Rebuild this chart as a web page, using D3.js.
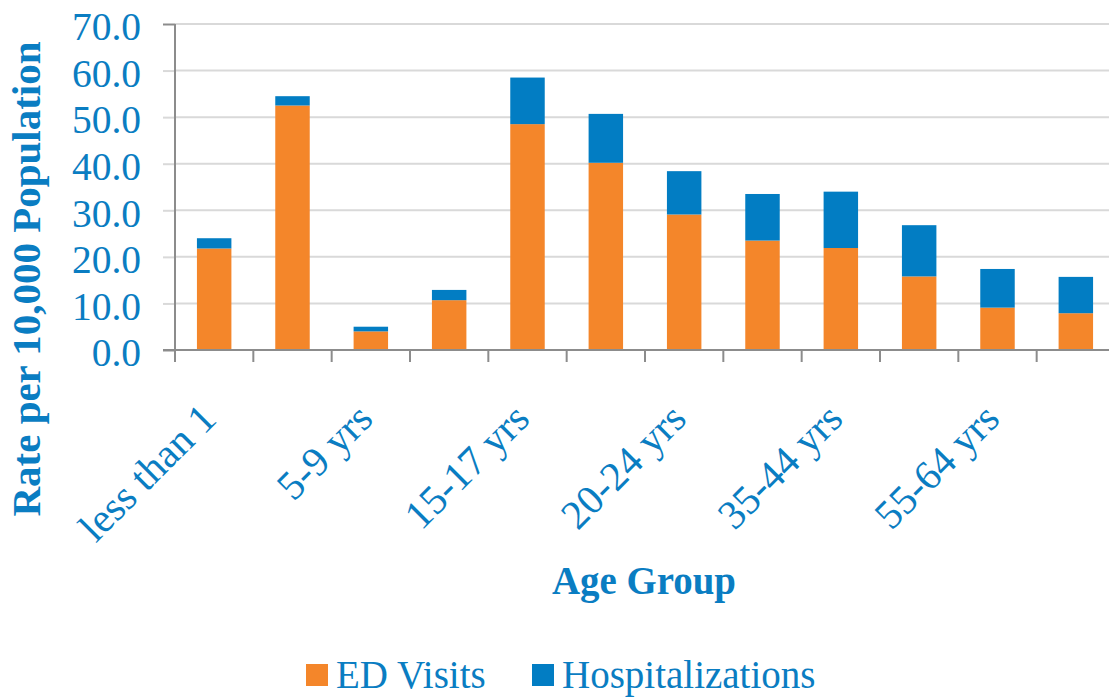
<!DOCTYPE html>
<html>
<head>
<meta charset="utf-8">
<script src="https://cdn.jsdelivr.net/npm/d3@7/dist/d3.min.js"></script>
<style>
  body { margin: 0; background: #fff; }
  text { font-family: "Liberation Serif", "Times New Roman", serif; fill: #0A7DC2; }
</style>
</head>
<body>
<svg id="chart" width="1109" height="698"></svg>
<script>
// Data
var ageGroups = ["less than 1", "1-4 yrs", "5-9 yrs", "10-14 yrs", "15-17 yrs", "18-19 yrs",
                 "20-24 yrs", "25-34 yrs", "35-44 yrs", "45-54 yrs", "55-64 yrs", "65+ yrs"];
var edVisits = [21.8, 52.5, 4.0, 10.7, 48.5, 40.2, 29.1, 23.5, 21.9, 15.8, 9.1, 7.9];
var hospitalizations = [2.2, 2.0, 1.0, 2.2, 10.0, 10.5, 9.3, 10.0, 12.1, 11.0, 8.3, 7.8];
var seriesNames = ["ED Visits", "Hospitalizations"];
var yTicks = [0, 10, 20, 30, 40, 50, 60, 70];

var colors = {"ED Visits": "#F4862A", "Hospitalizations": "#027DC3"};

var svg = d3.select("#chart"),
    plot = {left: 175, right: 1115, top: 24, bottom: 350};

var rows = ageGroups.map(function(g, i) {
  return {group: g, "ED Visits": edVisits[i], "Hospitalizations": hospitalizations[i]};
});

var x = d3.scaleBand()
    .domain(ageGroups)
    .range([plot.left, plot.right])
    .paddingInner(0.56)
    .paddingOuter(0.28);

var y = d3.scaleLinear()
    .domain([0, 70])
    .range([plot.bottom, plot.top]);

// y axis ticks + labels
var yAxis = svg.append("g")
    .attr("transform", "translate(" + plot.left + ",0)")
    .call(d3.axisLeft(y).tickValues(yTicks).tickSize(12).tickPadding(22)
      .tickFormat(function(d) { return d3.format(".1f")(d); }));
yAxis.select(".domain").remove();
yAxis.selectAll(".tick line")
    .attr("stroke", function(d) { return (d === 0 || d === 70) ? "#8c8c8c" : "#d9d9d9"; })
    .attr("stroke-width", 2);
yAxis.selectAll(".tick text")
    .attr("font-size", 39.5)
    .attr("dy", "0.4em")
    .style("fill", "#0A7DC2");

// gridlines
svg.append("g")
  .selectAll("line")
  .data(yTicks.filter(function(d) { return d > 0; }))
  .enter().append("line")
    .attr("x1", plot.left)
    .attr("x2", 1109)
    .attr("y1", function(d) { return y(d); })
    .attr("y2", function(d) { return y(d); })
    .attr("stroke", "#d9d9d9")
    .attr("stroke-width", 2);

// stacked bars
var stacked = d3.stack().keys(seriesNames)(rows);

svg.append("g")
  .selectAll("g")
  .data(stacked)
  .enter().append("g")
    .attr("fill", function(d) { return colors[d.key]; })
  .selectAll("rect")
  .data(function(d) { return d; })
  .enter().append("rect")
    .attr("x", function(d) { return x(d.data.group); })
    .attr("y", function(d) { return y(d[1]); })
    .attr("width", x.bandwidth())
    .attr("height", function(d) { return y(d[0]) - y(d[1]); });

// y axis line
svg.append("line")
    .attr("x1", plot.left).attr("x2", plot.left)
    .attr("y1", plot.top).attr("y2", plot.bottom + 12)
    .attr("stroke", "#8c8c8c").attr("stroke-width", 2);

// x axis line + boundary ticks
svg.append("line")
    .attr("x1", plot.left - 12).attr("x2", 1109)
    .attr("y1", plot.bottom).attr("y2", plot.bottom)
    .attr("stroke", "#8c8c8c").attr("stroke-width", 2);

svg.append("g")
  .selectAll("line")
  .data(ageGroups)
  .enter().append("line")
    .attr("x1", function(d) { return x(d) + x.bandwidth() / 2 + x.step() / 2; })
    .attr("x2", function(d) { return x(d) + x.bandwidth() / 2 + x.step() / 2; })
    .attr("y1", plot.bottom)
    .attr("y2", plot.bottom + 12)
    .attr("stroke", "#8c8c8c").attr("stroke-width", 2);

// x labels, every other one
svg.append("g")
  .selectAll("text")
  .data(ageGroups.filter(function(d, i) { return i % 2 === 0; }))
  .enter().append("text")
    .attr("transform", function(d) {
      return "translate(" + (x(d) + x.bandwidth() / 2 + 4) + ",421) rotate(-45)";
    })
    .attr("text-anchor", "end")
    .attr("font-size", 41)
    .text(function(d) { return d; });

// axis titles
svg.append("text")
    .attr("transform", "translate(40,279) rotate(-90)")
    .attr("text-anchor", "middle")
    .attr("font-size", 39)
    .attr("font-weight", "bold")
    .attr("textLength", 475)
    .attr("lengthAdjust", "spacingAndGlyphs")
    .text("Rate per 10,000 Population");

svg.append("text")
    .attr("x", 644)
    .attr("y", 594)
    .attr("text-anchor", "middle")
    .attr("font-size", 40)
    .attr("font-weight", "bold")
    .attr("textLength", 184)
    .attr("lengthAdjust", "spacingAndGlyphs")
    .text("Age Group");

// legend
var legendX = [306, 532];
var legend = svg.append("g")
  .selectAll("g")
  .data(seriesNames)
  .enter().append("g")
    .attr("transform", function(d, i) { return "translate(" + legendX[i] + ",664)"; });

legend.append("rect")
    .attr("width", 22)
    .attr("height", 22)
    .attr("fill", function(d) { return colors[d]; });

legend.append("text")
    .attr("x", 30)
    .attr("y", 24)
    .attr("font-size", 39)
    .text(function(d) { return d; });
</script>
</body>
</html>
